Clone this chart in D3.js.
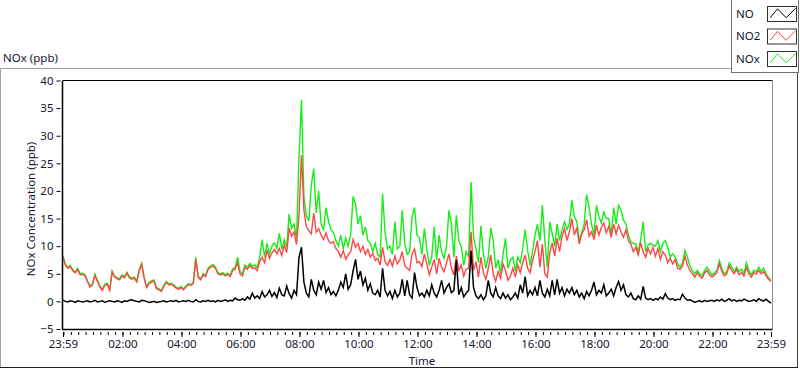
<!DOCTYPE html>
<html><head><meta charset="utf-8">
<script src="https://cdn.jsdelivr.net/npm/d3@7"></script>
<style>
body{margin:0;background:#fff}
svg{display:block}
text{font-family:"Noto Sans",sans-serif;fill:#15152e}
</style>
</head><body>
<svg id="c" width="800" height="369"></svg>
<script>
// ---- data (5-minute samples starting 23:59 the previous day) ----
const stepMinutes = 5;
const seriesNames = ["NO", "NO2", "NOx"];
const seriesColors = ["#000000", "#ff4646", "#14ee14"];

const NO = [
0.2,0.0,-0.1,0.1,0.0,-0.2,0.1,0.0,-0.1,0.0,
0.1,-0.1,0.0,0.2,-0.1,0.0,0.1,-0.2,0.0,0.1,
0.0,-0.1,0.1,0.0,-0.2,0.1,0.0,0.2,0.3,0.1,
0.0,-0.1,0.2,0.1,0.0,-0.2,-0.1,0.0,-0.2,-0.1,
0.0,0.1,-0.1,0.0,0.1,0.0,0.2,-0.1,0.0,0.1,
0.0,0.2,0.0,-0.1,0.3,0.0,-0.1,0.1,0.0,0.2,
0.0,0.1,-0.1,0.2,0.0,0.1,0.3,0.0,0.2,0.1,
0.6,0.3,0.2,0.5,0.2,0.8,0.4,1.5,0.6,1.0,
0.5,1.8,0.8,1.2,2.0,0.9,1.6,0.7,2.4,1.2,
1.0,2.8,1.4,0.6,2.0,1.2,8.0,9.8,3.5,1.5,
0.8,4.0,2.0,1.2,3.5,2.2,3.8,1.6,2.5,1.2,
1.8,1.0,2.0,3.5,2.5,5.0,2.2,3.0,5.5,7.6,
4.0,5.5,3.0,4.2,2.0,3.2,1.5,1.2,2.0,0.8,
6.0,2.0,1.0,1.8,0.5,2.0,0.8,1.5,4.0,1.0,
3.8,1.2,0.6,5.2,2.5,1.0,1.5,0.8,2.0,1.0,
3.0,1.5,0.8,2.0,3.8,1.5,2.5,3.2,1.6,2.0,
7.5,1.2,2.5,0.8,1.5,2.0,9.2,2.5,1.0,0.5,
1.2,0.3,1.0,3.8,1.5,0.8,2.5,1.0,0.5,1.5,
0.6,1.2,0.3,0.8,1.5,0.6,3.0,1.5,4.5,1.0,
2.0,1.2,2.5,1.0,3.8,1.5,0.8,2.2,1.0,3.8,
1.2,4.0,1.5,2.5,1.0,2.2,1.5,2.5,1.2,2.0,
0.8,1.5,0.5,1.8,1.0,2.0,3.5,1.2,2.0,1.5,
3.0,1.0,1.5,2.2,1.0,2.5,3.6,2.0,3.0,1.2,
0.8,1.5,0.5,0.3,1.0,0.4,2.7,0.6,0.3,0.5,
0.2,0.5,0.3,0.8,0.4,1.4,0.6,0.3,0.5,0.2,
0.4,0.3,1.3,0.6,0.2,0.3,0.1,-0.2,0.0,0.1,
-0.1,0.2,0.0,0.1,0.2,0.0,0.3,0.1,0.4,0.0,
0.2,0.5,0.1,0.3,0.0,0.2,0.1,0.4,0.2,0.0,
0.1,0.3,0.0,0.5,0.2,0.1,0.4,0.0,-0.3
];

const NO2 = [
8.0,6.5,6.0,6.3,5.5,5.2,5.8,4.8,4.9,4.6,
3.5,2.6,3.0,4.7,3.6,2.6,2.0,2.9,3.1,2.0,
5.3,4.4,4.1,3.9,4.6,4.3,5.1,4.3,4.0,4.2,
3.5,5.5,6.7,4.2,2.5,3.2,3.5,3.7,2.3,2.1,
1.8,2.7,3.4,3.0,3.1,2.8,2.4,2.2,2.5,2.1,
2.6,3.0,2.9,3.2,7.6,4.3,3.9,4.8,4.5,5.8,
6.2,6.4,6.0,5.0,4.8,5.0,4.6,4.9,4.5,5.6,
5.8,7.0,5.0,4.6,6.2,5.8,6.5,6.0,6.1,5.6,
7.2,8.0,7.0,9.3,7.8,8.8,9.4,8.6,9.6,8.3,
10.2,8.8,13.3,11.8,12.6,10.3,15.5,26.5,16.5,13.5,
12.8,12.2,16.0,12.5,13.2,12.0,11.2,12.4,11.0,10.5,
10.8,9.6,9.0,8.0,9.2,7.6,8.4,9.0,11.2,9.8,
10.5,9.0,10.0,8.5,9.4,8.0,8.7,7.4,7.8,6.6,
9.8,7.2,6.5,7.6,6.4,8.2,6.8,7.5,9.0,6.5,
6.0,5.6,8.6,9.5,7.0,7.2,6.3,8.6,6.8,4.8,
6.2,7.6,5.0,7.8,6.2,5.4,7.0,8.6,6.0,4.8,
8.2,5.6,6.6,4.6,5.8,6.0,12.6,5.6,7.2,4.4,
8.0,5.2,4.0,6.0,8.4,5.0,3.6,5.4,4.2,6.8,
5.6,3.8,4.6,6.0,4.4,6.6,5.2,7.0,8.4,6.0,
5.2,7.4,9.0,11.0,6.2,10.4,5.0,4.4,8.8,10.6,
8.2,11.4,9.0,11.8,13.2,11.0,12.6,15.0,12.0,13.4,
10.4,12.2,13.0,14.8,11.8,12.6,11.2,13.8,12.0,13.4,
14.2,12.4,13.6,11.6,14.0,12.2,13.8,12.6,11.6,13.0,
11.0,10.4,9.0,9.8,8.4,10.6,9.0,8.0,9.6,8.6,
9.8,8.2,9.6,7.6,9.0,8.4,7.0,7.8,6.8,7.6,
6.0,5.8,6.4,8.2,6.6,5.6,5.0,4.4,5.2,4.6,
4.2,5.2,5.6,4.8,4.4,4.8,5.2,6.8,5.4,4.6,
5.0,6.4,5.6,5.0,5.8,4.8,5.2,4.6,6.2,5.0,
4.4,5.2,5.0,5.6,5.0,5.4,4.6,4.0,3.6
];

const NOx = [
8.2,6.7,6.2,6.5,5.7,5.4,6.0,5.0,5.1,4.8,
3.7,2.8,3.2,4.9,3.8,2.8,2.2,3.1,3.3,2.2,
5.5,4.6,4.3,4.1,4.8,4.5,5.3,4.5,4.2,4.4,
3.7,5.7,6.9,4.4,2.7,3.4,3.7,3.9,2.5,2.3,
2.0,2.9,3.6,3.2,3.3,3.0,2.6,2.4,2.7,2.3,
2.8,3.2,3.1,3.4,8.0,4.6,4.1,5.0,4.7,6.0,
6.4,6.7,6.2,5.2,5.0,5.2,4.8,5.1,4.7,5.9,
6.1,8.0,5.4,5.0,6.6,6.2,6.9,6.4,6.6,6.1,
8.0,11.2,8.0,10.5,8.6,10.0,10.6,9.6,12.3,9.4,
11.2,9.8,15.8,13.2,14.0,11.5,26.0,36.5,19.0,15.5,
14.5,21.0,24.0,16.0,20.0,14.0,13.0,17.0,14.5,13.0,
12.5,11.0,10.0,12.0,9.5,11.5,10.0,12.0,19.0,17.5,
14.0,15.5,12.0,13.5,11.0,10.5,9.0,10.5,8.5,8.0,
19.5,12.5,9.5,10.0,8.5,14.4,9.5,10.0,16.5,10.5,
8.5,9.0,15.3,17.0,12.0,11.5,8.5,13.2,9.5,6.5,
8.0,13.5,7.5,12.0,9.0,7.8,10.0,16.5,14.0,8.0,
15.6,11.0,10.0,6.5,9.0,8.0,21.6,11.6,9.5,7.0,
13.7,8.6,6.0,8.0,13.3,11.0,6.0,7.5,5.0,8.5,
11.4,6.0,7.5,8.0,5.5,8.0,7.0,9.5,13.0,9.3,
6.5,9.0,12.0,14.0,11.0,17.4,11.0,6.2,14.4,12.3,
10.0,14.0,11.0,13.0,14.4,13.0,14.0,18.3,15.3,14.5,
11.0,12.5,14.0,19.4,17.0,14.0,12.0,17.4,15.3,14.2,
16.2,15.0,15.0,12.0,17.0,14.0,17.4,16.5,14.7,14.0,
12.0,10.8,10.5,10.4,9.0,11.2,14.4,9.0,10.2,10.5,
10.2,10.0,11.0,9.0,10.5,11.0,9.8,8.0,8.6,8.0,
6.8,6.2,7.0,9.2,8.0,6.5,5.6,5.0,5.6,5.0,
4.6,5.6,6.2,5.5,4.8,5.2,5.6,7.4,6.0,5.0,
5.4,7.0,6.2,5.4,6.2,5.4,5.8,5.0,7.0,5.6,
4.8,5.6,5.4,6.2,5.4,6.0,5.0,4.3,3.8
];

const yTicks = [-5, 0, 5, 10, 15, 20, 25, 30, 35, 40];
const xTickLabels = ["23:59","02:00","04:00","06:00","08:00","10:00","12:00","14:00","16:00","18:00","20:00","22:00","23:59"];

// ---- build ----
const svg = d3.select("#c");
const t0 = new Date(2020, 0, 1, 23, 59);
const times = NO.map((_, i) => new Date(t0.getTime() + i * stepMinutes * 60000));
const t1 = times[times.length - 1];

const L = 63, R = 771, T = 80.5, B = 329;
const x = d3.scaleTime().domain([t0, t1]).range([L, R]);
const y = d3.scaleLinear().domain([-5, 40]).range([B, T]);

// outer panel
svg.append("line").attr("x1",0.5).attr("y1",68.5).attr("x2",731).attr("y2",68.5).attr("stroke","#a0a0a0");
svg.append("line").attr("x1",0.5).attr("y1",68.5).attr("x2",0.5).attr("y2",367.5).attr("stroke","#a0a0a0");
svg.append("line").attr("x1",797.5).attr("y1",72).attr("x2",797.5).attr("y2",368).attr("stroke","#404040");
svg.append("line").attr("x1",0).attr("y1",367.5).attr("x2",798).attr("y2",367.5).attr("stroke","#202020");

svg.append("text").attr("x",3).attr("y",62).attr("font-size","11.5px").text("NOx (ppb)");

// plot frame
svg.append("line").attr("x1",L).attr("y1",T).attr("x2",R+1.5).attr("y2",T).attr("stroke","#000");
svg.append("line").attr("x1",R+1.5).attr("y1",T).attr("x2",R+1.5).attr("y2",B).attr("stroke","#909090");

// clip
svg.append("clipPath").attr("id","clip").append("rect")
  .attr("x",L).attr("y",T).attr("width",R - L + 1).attr("height",B - T);

const series = [NOx, NO2, NO];
const colors = [seriesColors[2], seriesColors[1], seriesColors[0]];
const widths = [1.4, 1.4, 1.5];
const line = d3.line().x((d, i) => x(times[i])).y(d => y(d));
const gLines = svg.append("g").attr("clip-path","url(#clip)");
series.forEach((s, k) => {
  gLines.append("path").datum(s).attr("d", line)
    .attr("fill","none").attr("stroke", colors[k]).attr("stroke-width",widths[k])
    .attr("stroke-linejoin","miter");
});

// axes lines
svg.append("line").attr("x1",L-0.5).attr("y1",T).attr("x2",L-0.5).attr("y2",B+0.5).attr("stroke","#000").attr("stroke-width",1.5);
svg.append("line").attr("x1",L-1).attr("y1",B+0.5).attr("x2",R+1.5).attr("y2",B+0.5).attr("stroke","#000").attr("stroke-width",1.5);

// y axis
const gy = svg.append("g").attr("transform","translate(60.5,0)")
  .call(d3.axisLeft(y).tickValues(yTicks).tickSize(4).tickPadding(3).tickFormat(d3.format("d")));
gy.select(".domain").remove();
gy.selectAll("text").attr("font-size","11.5px").attr("font-family","Noto Sans").attr("fill","#15152e");
gy.selectAll("line").attr("stroke","#000");

// x axis
const xTickDates = xTickLabels.map((s, i) => {
  if (i === 0) return t0;
  if (i === xTickLabels.length - 1) return t1;
  const [h, m] = s.split(":").map(Number);
  return new Date(2020, 0, 2, h, m);
});
const minor = d3.timeMinute.every(15).range(t0, t1);
const gxm = svg.append("g").attr("transform","translate(0,332)")
  .call(d3.axisBottom(x).tickValues(minor).tickSize(3).tickFormat(""));
gxm.select(".domain").remove();
gxm.selectAll("line").attr("stroke","#000");
const gx = svg.append("g").attr("transform","translate(0,332)")
  .call(d3.axisBottom(x).tickValues(xTickDates).tickSize(5).tickPadding(3)
    .tickFormat((d, i) => xTickLabels[i]));
gx.select(".domain").remove();
gx.selectAll("line").attr("stroke","#000");
gx.selectAll("text").attr("font-size","11.5px").attr("font-family","Noto Sans").attr("fill","#15152e");

// axis titles
svg.append("text").attr("transform","translate(35,209) rotate(-90)").attr("text-anchor","middle")
  .attr("font-size","11.5px").text("NOx Concentration (ppb)");
svg.append("text").attr("x",422).attr("y",365).attr("text-anchor","middle")
  .attr("font-size","11.5px").text("Time");

// legend
svg.append("rect").attr("x",731.5).attr("y",-1).attr("width",67).attr("height",73.5)
  .attr("fill","#fff").attr("stroke","#707070");
const legendOrder = [0, 1, 2];
legendOrder.forEach((k, j) => {
  const y0 = 6 + j * 22.5;
  svg.append("text").attr("x",736).attr("y",y0 + 11.5).attr("font-size","11.5px").text(seriesNames[k]);
  svg.append("rect").attr("x",767.5).attr("y",y0 + 0.5).attr("width",29).attr("height",15)
    .attr("fill","#fff").attr("stroke","#303030");
  const pts = [[2.7,11.3],[10,2.3],[18.7,11.3],[28,1.8]].map(p => [767.5 + p[0], y0 + 0.5 + p[1]]);
  svg.append("path").attr("d", d3.line()(pts)).attr("fill","none").attr("stroke", seriesColors[k]).attr("stroke-width",1);
});
</script>
</body></html>
